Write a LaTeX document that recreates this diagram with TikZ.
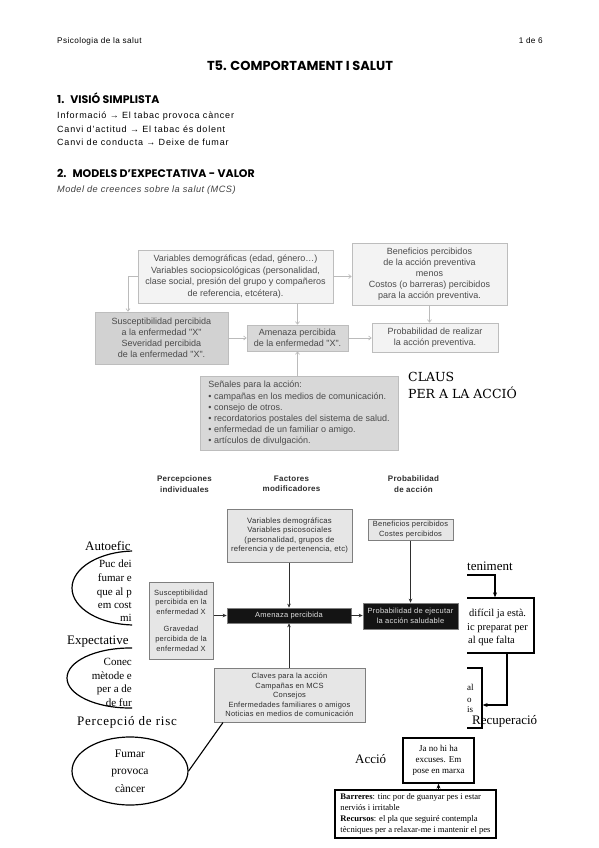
\documentclass[tikz,border=0pt]{standalone}
\usepackage{fontspec}
\setmainfont{Liberation Serif}
\newfontfamily\sansf{Liberation Sans}
\newfontfamily\sansls{Liberation Sans}[LetterSpace=5]
\newfontfamily\sansb{Liberation Sans}[LetterSpace=9]
\newfontfamily\sansd{Liberation Sans}[LetterSpace=3]
\newfontfamily\headf{Poppins}
\newfontfamily\slabf{DejaVu Serif}
\usetikzlibrary{arrows.meta,shapes.geometric}
\definecolor{dtxt}{HTML}{4A4A4A}
\definecolor{dline}{HTML}{BDBDBD}
\definecolor{dlight}{HTML}{F3F3F3}
\definecolor{ddark}{HTML}{D2D2D2}
\definecolor{dmid}{HTML}{D8D8D8}
\definecolor{darr}{HTML}{BBBBBB}
\definecolor{etxt}{HTML}{2E2E2E}
\definecolor{eline}{HTML}{7F7F7F}
\definecolor{efill}{HTML}{E6E6E6}
\definecolor{eblk}{HTML}{141414}
\tikzset{
  body/.style={anchor=base west, font=\sansb\fontsize{9}{11}\selectfont},
  headg/.style={anchor=base west, font=\headf\bfseries\fontsize{11}{12}\selectfont},
  d1box/.style={draw=dline, line width=0.7pt, align=center, inner sep=0pt, text=dtxt, font=\sansf\fontsize{9}{11.6}\selectfont},
  d1arr/.style={draw=darr, line width=0.7pt, -{Straight Barb[length=2.5pt,width=4pt]}},
  d2box/.style={draw=eline, line width=1pt, fill=efill, align=center, inner sep=0pt, text=etxt, font=\sansd\fontsize{7.5}{9.4}\selectfont},
  d2blk/.style={draw=eline, line width=0.6pt, fill=eblk, align=center, inner sep=0pt, text=white!88!black, font=\sansd\fontsize{7.5}{9.4}\selectfont},
  d2arr/.style={draw=etxt, line width=0.8pt, -{Stealth[length=4pt,width=3.5pt]}},
  d2hdr/.style={align=center, inner sep=0pt, text=etxt, font=\sansd\bfseries\fontsize{8}{10.5}\selectfont},
  blk/.style={draw=black, line width=1.3pt},
  blkarr/.style={blk, -{Stealth[length=5pt,width=4pt]}},
  lab/.style={anchor=base west, font=\fontsize{13}{15}\selectfont},
  frag/.style={font=\fontsize{11}{13}\selectfont},
}
\begin{document}
\begin{tikzpicture}[x=1pt,y=-1pt, every node/.append style={inner sep=0pt}]
\useasboundingbox[fill=white] (0,0) rectangle (599,848);

% header
\node[anchor=base west, font=\sansls\fontsize{8.2}{9}\selectfont] (hdrl) at (57,44) {Psicologia de la salut};
\node[anchor=base east, font=\sansls\fontsize{8.2}{9}\selectfont] (hdrr) at (543,44) {1 de 6};
\node[anchor=base, font=\headf\bfseries\fontsize{13}{15}\selectfont] (title) at (300,71) {T5. COMPORTAMENT I SALUT};
\node[headg] (sec1) at (57,103) {1.\hspace{6pt}VISIÓ SIMPLISTA};
\node[body] (l1) at (57,118) {Informació → El tabac provoca càncer};
\node[body] (l2) at (57,132) {Canvi d’actitud → El tabac és dolent};
\node[body] (l3) at (57,146) {Canvi de conducta → Deixe de fumar};
\node[headg] (sec2) at (57,177) {2.\hspace{6pt}MODELS D’EXPECTATIVA - VALOR};
\node[anchor=base west, text=black!75, font=\sansls\itshape\fontsize{9.2}{11}\selectfont] (ital) at (57,192) {Model de creences sobre la salut (MCS)};

% diagram 1
\node[d1box, fill=dlight, minimum width=195pt, minimum height=53pt] (v1) at (235.5,276.5) {Variables demográficas (edad, género…)\\Variables sociopsicológicas (personalidad,\\clase social, presión del grupo y compañeros\\de referencia, etcétera).};
\node[d1box, fill=dlight, minimum width=155pt, minimum height=62pt, font=\sansf\fontsize{9}{11}\selectfont] (b1) at (429.5,274) {Beneficios percibidos\\de la acción preventiva\\menos\\Costos (o barreras) percibidos\\para la acción preventiva.};
\node[d1box, fill=ddark, minimum width=133pt, minimum height=52pt, font=\sansf\fontsize{9}{11}\selectfont] (s1) at (161.5,338) {Susceptibilidad percibida\\a la enfermedad "X"\\Severidad percibida\\de la enfermedad "X".};
\node[d1box, fill=dmid, minimum width=101pt, minimum height=26pt, font=\sansf\fontsize{9}{10.5}\selectfont] (a1) at (297.5,338) {Amenaza percibida\\de la enfermedad "X".};
\node[d1box, fill=dlight, minimum width=126pt, minimum height=29pt, font=\sansf\fontsize{9}{11}\selectfont] (p1) at (435,337.5) {Probabilidad de realizar\\la acción preventiva.};
\node[d1box, fill=dmid, minimum width=198pt, minimum height=74pt, align=left, font=\sansf\fontsize{9}{11.2}\selectfont] (c1) at (299,413.5) {Señales para la acción:\\• campañas en los medios de comunicación.\\• consejo de otros.\\• recordatorios postales del sistema de salud.\\• enfermedad de un familiar o amigo.\\• artículos de divulgación.};
\coordinate (kx) at (128,0);
\draw[d1arr] (v1.west) -| (s1.north -| kx);
\draw[d1arr] (v1.east) -- (v1.east -| b1.west);
\draw[d1arr] (a1.north |- v1.south) -- (a1.north);
\draw[d1arr] (b1.south) -- (b1.south |- p1.north);
\draw[d1arr] (s1.east |- a1.west) -- (a1.west);
\draw[d1arr] (a1.east) -- (a1.east -| p1.west);
\draw[d1arr] (a1.south |- c1.north) -- (a1.south);

\node[anchor=base west, font=\slabf\fontsize{12.5}{15}\selectfont] (claus1) at (408,381.5) {CLAUS};
\node[anchor=base west, font=\slabf\fontsize{12.5}{15}\selectfont] (claus2) at (408,398) {PER A LA ACCIÓ};

% left ellipses (partly hidden)
\begin{scope}
\clip (0,540) rectangle (132,712);
\node[ellipse, draw, line width=1.2pt, minimum width=126pt, minimum height=74pt] (e1) at (135,588) {};
\node[ellipse, draw, line width=1.2pt, minimum width=126pt, minimum height=60pt] (e2) at (130,678) {};
\end{scope}
\node[lab] (lauto) at (85,550) {Autoefic};
\node[frag, anchor=base east] (e1a) at (132,567) {Puc dei};
\node[frag, anchor=base east] (e1b) at (132,581) {fumar e};
\node[frag, anchor=base east] (e1c) at (132,595) {que al p};
\node[frag, anchor=base east] (e1d) at (132,608) {em cost};
\node[frag, anchor=base east] (e1e) at (132,621) {mi};
\node[lab] (lexp) at (67,644) {Expectative};
\node[frag, anchor=base east] (e2a) at (132,665) {Conec};
\node[frag, anchor=base east] (e2b) at (132,679) {mètode e};
\node[frag, anchor=base east] (e2c) at (132,692) {per a de};
\node[frag, anchor=base east] (e2d) at (132,706) {de fur};
\node[lab, font=\fontsize{13}{15}\selectfont\addfontfeatures{LetterSpace=6}] (lris) at (77,725) {Percepció de risc};
\node[ellipse, draw, line width=1.2pt, minimum width=116pt, minimum height=68pt, align=center, font=\fontsize{11.5}{17.5}\selectfont] (e3) at (130,771) {Fumar\\provoca\\càncer};

% diagram 2
\node[d2hdr] (h1) at (184.5,484) {Percepciones\\individuales};
\node[d2hdr] (h2) at (291.5,484) {Factores\\modificadores};
\node[d2hdr] (h3) at (413.5,484) {Probabilidad\\de acción};
\node[d2box, minimum width=125pt, minimum height=53pt, font=\sansd\fontsize{7.7}{9.3}\selectfont] (v2) at (289.5,535.5) {Variables demográficas\\Variables psicosociales\\(personalidad, grupos de\\referencia y de pertenencia, etc)};
\node[d2box, minimum width=85pt, minimum height=21pt, font=\sansd\fontsize{7.5}{9.6}\selectfont] (b2) at (410.5,529.5) {Beneficios percibidos\\Costes percibidos};
\node[d2box, minimum width=64pt, minimum height=77pt, font=\sansd\fontsize{7.5}{9.8}\selectfont] (s2) at (181,620.5) {Susceptibilidad\\percibida en la\\enfermedad X\\[7pt]Gravedad\\percibida de la\\enfermedad X};
\node[d2blk, minimum width=124pt, minimum height=15pt] (a2) at (289,615.5) {Amenaza percibida};
\node[d2blk, minimum width=95pt, minimum height=26pt] (p2) at (410.5,616) {Probabilidad de ejecutar\\la acción saludable};
\node[d2box, minimum width=151pt, minimum height=54pt] (c2) at (289.5,695) {Claves para la acción\\Campañas en MCS\\Consejos\\Enfermedades familiares o amigos\\Noticias en medios de comunicación};
\draw[d2arr] (v2.south -| a2) -- (a2);
\draw[d2arr] (b2) -- (p2);
\draw[d2arr] (s2.east |- a2.west) -- (a2.west);
\draw[d2arr] (a2.east) -- (a2.east -| p2.west);
\draw[d2arr] (c2.north -| a2) -- (a2);

\coordinate (fx) at (223,0);
\draw[line width=1.1pt] (e3.east) -- (c2.south -| fx);

% right side (partly hidden)
\begin{scope}
\clip (467,540) rectangle (599,740);
\node[draw, line width=1.3pt, minimum width=134pt, minimum height=55pt] (mbox) at (467,625.5) {};
\node[draw, line width=1.3pt, minimum width=82pt, minimum height=60pt] (rbox) at (441,698) {};
\end{scope}
\node[lab] (mant) at (467,570) {teniment};
\coordinate (mt0) at (467,575);
\coordinate (mx1) at (495,0);
\draw[blkarr] (mt0) -| (mbox.north -| mx1);
\node[anchor=base west, font=\fontsize{10.5}{12}\selectfont] (mta) at (469,616) {difícil ja està.};
\node[anchor=base west, font=\fontsize{10.5}{12}\selectfont] (mtb) at (467,630) {ic preparat per};
\node[anchor=base west, font=\fontsize{10.5}{12}\selectfont] (mtc) at (468,643) {al que falta};
\coordinate (mx2) at (507,0);
\coordinate (ry) at (0,705);
\draw[blkarr] (mbox.south -| mx2) |- (rbox.east |- ry);
\node[anchor=base west, font=\fontsize{9}{10}\selectfont] (rba) at (467,690) {al};
\node[anchor=base west, font=\fontsize{9}{10}\selectfont] (rbb) at (467,702) {o};
\node[anchor=base west, font=\fontsize{9}{10}\selectfont] (rbc) at (467,712) {is};
\node[lab] (recu) at (472,724.5) {Recuperació};

% bottom
\node[lab] (acc) at (355,763.5) {Acció};
\node[draw, line width=1.3pt, minimum width=71pt, minimum height=45pt, align=center, font=\fontsize{9}{11}\selectfont] (ja) at (438.5,760.5) {Ja no hi ha\\excuses. Em\\pose en marxa};
\node[draw, line width=1.3pt, minimum width=161pt, minimum height=48pt, align=left, font=\fontsize{8.6}{11}\selectfont] (bar) at (415.5,814) {\textbf{Barreres}: tinc por de guanyar pes i estar\\nerviós i irritable\\\textbf{Recursos}: el pla que seguiré contempla\\tècniques per a relaxar-me i mantenir el pes};
\draw[blkarr] (bar.north -| ja) -- (ja.south);
\end{tikzpicture}
\end{document}
